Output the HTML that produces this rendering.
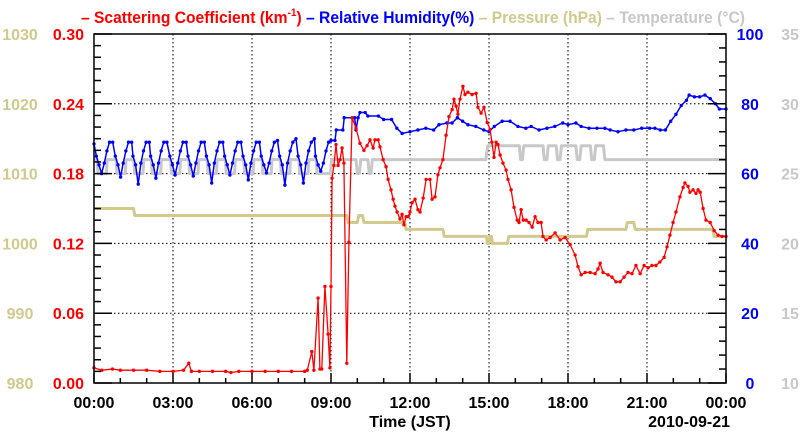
<!DOCTYPE html>
<html><head><meta charset="utf-8"><style>
html,body{margin:0;padding:0;background:#fff;}
svg{display:block;font-family:"Liberation Sans",Arial,sans-serif;font-weight:bold;}
</style></head><body>
<svg id="chart" width="800" height="434" viewBox="0 0 800 434">
<text x="81" y="23" font-size="17" textLength="664" lengthAdjust="spacingAndGlyphs"><tspan fill="#ff0000">– Scattering Coefficient (km</tspan><tspan fill="#ff0000" font-size="11" dy="-7">-1</tspan><tspan fill="#ff0000" dy="7">) </tspan><tspan fill="#0000ff">– Relative Humidity(%) </tspan><tspan fill="#d2c98c">– Pressure (hPa) </tspan><tspan fill="#c8c8c8">– Temperature (°C)</tspan></text>
<g id="grid"></g>
<g id="series"></g>
<g id="axes"></g>
<text x="410" y="427" font-size="16" text-anchor="middle" fill="#000">Time (JST)</text>
<text x="730" y="427" font-size="16" text-anchor="end" fill="#000">2010-09-21</text>
</svg>
<script>
const xTickLabels = ["00:00","03:00","06:00","09:00","12:00","15:00","18:00","21:00","00:00"];
const scatTicks = ["0.00","0.06","0.12","0.18","0.24","0.30"];
const presTicks = ["980","990","1000","1010","1020","1030"];
const rhTicks = ["0","20","40","60","80","100"];
const tempTicks = ["10","15","20","25","30","35"];

const scatT = [0,0.3,0.7,1.0,1.5,2.0,2.5,3.0,3.4,3.6,3.7,4.0,4.5,5.0,5.2,5.5,6.0,6.5,7.0,7.5,8.0,8.1,8.27,8.35,8.51,8.58,8.65,8.77,8.89,8.96,9.0,9.04,9.11,9.19,9.27,9.34,9.42,9.49,9.6,9.68,9.8,9.95,10.1,10.25,10.37,10.48,10.6,10.67,10.79,10.86,10.98,11.09,11.17,11.28,11.36,11.43,11.51,11.62,11.7,11.77,11.85,11.93,12.0,12.08,12.19,12.3,12.38,12.5,12.61,12.76,12.84,12.95,13.06,13.14,13.25,13.37,13.48,13.6,13.67,13.75,13.82,13.9,14.01,14.09,14.2,14.36,14.51,14.58,14.7,14.81,14.93,15.04,15.11,15.19,15.27,15.34,15.42,15.53,15.65,15.72,15.84,15.95,16.07,16.14,16.22,16.3,16.41,16.52,16.64,16.75,16.86,16.98,17.05,17.17,17.32,17.51,17.7,17.89,18.08,18.27,18.38,18.5,18.65,18.84,19.03,19.14,19.22,19.33,19.52,19.67,19.82,19.98,20.13,20.28,20.43,20.58,20.74,20.89,21.04,21.19,21.34,21.49,21.65,21.76,21.87,21.99,22.1,22.25,22.37,22.44,22.56,22.63,22.75,22.86,22.94,23.02,23.13,23.24,23.4,23.55,23.7,23.85,24];
const scatV = [0.013,0.011,0.012,0.011,0.011,0.011,0.010,0.010,0.011,0.017,0.010,0.010,0.010,0.010,0.009,0.010,0.010,0.010,0.010,0.010,0.010,0.011,0.027,0.011,0.073,0.012,0.012,0.083,0.042,0.013,0.083,0.176,0.187,0.205,0.187,0.192,0.202,0.189,0.017,0.121,0.228,0.219,0.206,0.200,0.204,0.209,0.202,0.209,0.209,0.203,0.192,0.186,0.175,0.166,0.158,0.152,0.147,0.141,0.145,0.136,0.143,0.143,0.147,0.155,0.158,0.149,0.147,0.159,0.175,0.175,0.158,0.160,0.179,0.185,0.192,0.213,0.229,0.235,0.244,0.238,0.231,0.244,0.255,0.248,0.250,0.248,0.249,0.237,0.232,0.237,0.224,0.218,0.207,0.194,0.207,0.205,0.196,0.189,0.183,0.175,0.166,0.151,0.140,0.138,0.149,0.140,0.140,0.138,0.134,0.143,0.138,0.138,0.126,0.123,0.125,0.129,0.123,0.125,0.119,0.110,0.100,0.093,0.095,0.095,0.094,0.098,0.103,0.095,0.093,0.091,0.087,0.087,0.091,0.095,0.094,0.101,0.094,0.101,0.099,0.101,0.101,0.104,0.108,0.117,0.127,0.138,0.147,0.160,0.168,0.172,0.169,0.164,0.166,0.163,0.166,0.164,0.150,0.140,0.138,0.131,0.127,0.126,0.126];

const rhT = [0,0.09,0.19,0.29,0.39,0.49,0.59,0.71,0.81,0.91,1.01,1.11,1.21,1.31,1.43,1.48,1.58,1.68,1.78,1.88,1.98,2.1,2.15,2.25,2.35,2.45,2.55,2.65,2.77,2.88,2.98,3.08,3.18,3.28,3.38,3.5,3.57,3.67,3.77,3.87,3.97,4.07,4.19,4.27,4.37,4.47,4.57,4.67,4.77,4.89,4.96,5.06,5.16,5.26,5.36,5.46,5.58,5.66,5.76,5.86,5.96,6.06,6.16,6.28,6.35,6.45,6.55,6.65,6.75,6.85,6.97,7.05,7.15,7.25,7.35,7.45,7.55,7.67,7.75,7.85,7.95,8.05,8.15,8.25,8.37,8.41,8.51,8.61,8.71,8.81,8.91,9.0,9.15,9.2,9.45,9.5,9.9,9.95,10.03,10.1,10.3,10.4,10.8,11.0,11.3,11.5,11.7,12.0,12.3,12.6,12.9,13.1,13.4,13.6,13.8,14.0,14.2,14.5,14.8,15.0,15.2,15.5,15.8,16.1,16.4,16.6,16.9,17.2,17.5,17.8,18.0,18.3,18.5,18.8,19.1,19.4,19.6,19.9,20.2,20.5,20.8,21.1,21.3,21.5,21.7,21.9,22.1,22.3,22.5,22.6,22.8,23.0,23.2,23.4,23.6,23.75,24];
const rhV = [68.5,65,62.5,60,63,66.5,69,69,65,62.5,59,63,66.5,69,69,65,62.5,57,63,66.5,69,69,65,62.5,58.7,63,66.5,69,69,65,62.5,59.6,63,66.5,69,69,65,62.5,59.3,63,66.5,69,69,65,62.5,57.3,63,66.5,69,69,65,62.5,59.6,63,66.5,69,69,65,62.5,58.2,63,66.5,69,69,65,62.5,60.2,63,66.5,69,69.5,65,62.5,56.7,63,66.5,69,70,65,62.5,57.3,63,66.5,69,70,65,62.5,60.7,63,66.5,69,69.5,69.5,72.5,72.5,76,76,72.5,76,77.5,77.5,76.5,76.5,75.5,75.5,73,71.5,72,72.5,73,72.5,74,74.5,74.5,76,75,74,73.5,72.5,72,73.5,75,75,73.5,73,73.5,72.5,73,73.5,74.5,74,74.5,73.5,73,73,73,72.5,72,72.5,72.5,73,73,73,72.5,72.5,75,77,79.5,81,82.5,82,82,82.5,81.5,80,78.5,78.5];

const presT = [0,1.5,1.55,9.6,9.65,10.0,10.05,10.2,10.25,11.8,11.85,13.25,13.3,14.9,14.93,15.0,15.03,15.1,15.13,15.7,15.75,18.7,18.75,20.2,20.25,20.5,20.55,23.5,23.55,24];
const presV = [1005,1005,1004,1004,1003,1003,1004,1004,1003,1003,1002,1002,1001,1001,1000,1000,1001,1001,1000,1000,1001,1001,1002,1002,1003,1003,1002,1002,1001,1001];

const tempT = [0,0.12,0.15,0.47,0.5,0.84,0.87,1.19,1.22,1.51,1.54,1.86,1.89,2.18,2.21,2.53,2.56,2.91,2.94,3.26,3.29,3.6,3.63,3.95,3.98,4.3,4.33,4.65,4.68,4.99,5.02,5.34,5.37,5.69,5.72,6.04,6.07,6.38,6.41,6.73,6.76,7.08,7.11,7.43,7.46,7.78,7.81,8.13,8.16,8.44,8.47,8.98,9.02,9.95,10.0,10.08,10.13,10.4,10.45,10.52,10.57,14.88,14.95,16.15,16.2,16.27,16.32,17.05,17.1,17.2,17.25,17.55,17.6,17.7,17.75,18.3,18.35,18.45,18.5,18.85,18.9,19.0,19.05,19.35,19.4,24];
const tempV = [26,26,25,25,26,26,25,25,26,26,25,25,26,26,25,25,26,26,25,25,26,26,25,25,26,26,25,25,26,26,25,25,26,26,25,25,26,26,25,25,26,26,25,25,26,26,25,25,26,26,25,25,26,26,25,25,26,26,25,25,26,26,27,27,26,26,27,27,26,26,27,27,26,26,27,27,26,26,27,27,26,26,27,27,26,26];

const L=94,R=726,T=34,B=383;
const NS="http://www.w3.org/2000/svg";
const xS=h=>L+(h/24)*(R-L);
const yScat=v=>B-(v/0.30)*(B-T);
const yRH=v=>B-(v/100)*(B-T);
const yPres=v=>B-((v-980)/50)*(B-T);
const yTemp=v=>B-((v-10)/25)*(B-T);
function mk(tag,attrs,parent){const e=document.createElementNS(NS,tag);for(const k in attrs)e.setAttribute(k,attrs[k]);parent.appendChild(e);return e;}
const grid=document.getElementById('grid'),axes=document.getElementById('axes'),ser=document.getElementById('series');

// grid
for(let i=1;i<8;i++){const x=xS(i*3);
const g=mk('line',{x1:x,x2:x,y1:T,y2:B,stroke:'#000','stroke-width':1,'stroke-dasharray':'1.5,2.5'},grid);

}
for(let i=1;i<5;i++){const y=yScat(i*0.06);
const g=mk('line',{x1:L,x2:R,y1:y,y2:y,stroke:'#000','stroke-width':1,'stroke-dasharray':'1.5,2.5'},grid);

}

function series(ts,vs,ys,color,w,marker,name){
const pts=ts.map((t,i)=>xS(t).toFixed(1)+','+ys(vs[i]).toFixed(1)).join(' ');
const pl=mk('polyline',{points:pts,fill:'none',stroke:color,'stroke-width':w,'stroke-linejoin':'round'},ser);


if(marker){ts.forEach((t,i)=>{const c=mk('circle',{cx:xS(t),cy:ys(vs[i]),r:1.7,fill:color},ser);

});}
}
series(tempT,tempV,yTemp,'#c8c8c8',3,false,'temperature');
series(presT,presV,yPres,'#d2c98c',3,false,'pressure');
series(rhT,rhV,yRH,'#0000ff',1.5,true,'humidity');
series(scatT,scatV,yScat,'#ff0000',1.3,true,'scattering');

// frame
const fr=mk('rect',{x:L,y:T,width:R-L,height:B-T,fill:'none',stroke:'#000','stroke-width':1.5},axes);


// left ticks
for(let i=0;i<=30;i++){const y=B-(i/30)*(B-T);const len=(i%6===0)?18:7;
const t=mk('line',{x1:L,x2:L+len,y1:y,y2:y,stroke:'#000','stroke-width':1.5},axes);

}
// right ticks
for(let i=0;i<=25;i++){const y=B-(i/25)*(B-T);const len=(i%5===0)?18:7;
const t=mk('line',{x1:R-len,x2:R,y1:y,y2:y,stroke:'#000','stroke-width':1.5},axes);

}
// bottom ticks
for(let i=0;i<=24;i++){const x=xS(i);const len=(i%3===0)?10:5;
const t=mk('line',{x1:x,x2:x,y1:B,y2:B-len,stroke:'#000','stroke-width':1.5},axes);

}
// labels
xTickLabels.forEach((s,i)=>{const t=mk('text',{x:xS(i*3),y:408,'font-size':16,'text-anchor':'middle',fill:'#000'},axes);t.textContent=s;

});
scatTicks.forEach((s,i)=>{const t=mk('text',{x:84,y:yScat(i*0.06)+6,'font-size':16,'text-anchor':'end',fill:'#ff0000'},axes);t.textContent=s;

});
presTicks.forEach((s,i)=>{const t=mk('text',{x:20,y:yPres(980+i*10)+6,'font-size':16,'text-anchor':'middle',fill:'#d2c98c'},axes);t.textContent=s;

});
rhTicks.forEach((s,i)=>{const t=mk('text',{x:750,y:yRH(i*20)+6,'font-size':16,'text-anchor':'middle',fill:'#0000ff'},axes);t.textContent=s;

});
tempTicks.forEach((s,i)=>{const t=mk('text',{x:790,y:yTemp(10+i*5)+6,'font-size':16,'text-anchor':'middle',fill:'#c8c8c8'},axes);t.textContent=s;

});
</script>
</body></html>
